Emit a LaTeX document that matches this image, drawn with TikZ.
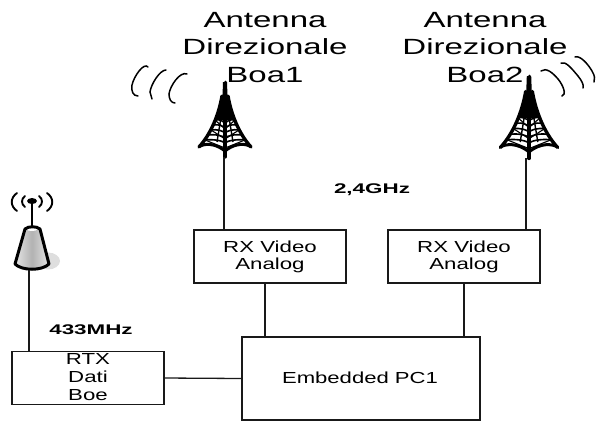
\documentclass[tikz,border=0pt]{standalone}
\usepackage{fontspec}
\setmainfont{Liberation Sans}
\newcommand{\stretchtxt}[3]{\fontsize{#2}{#2}\selectfont\scalebox{#1}[1]{#3}}
\tikzset{
  x=1pt,y=-1pt,
  boxnode/.style={draw=black!90,line width=1.3pt,inner sep=0,fill=white},
  wire/.style={draw=black!90,line width=1.3pt},
  wavearc/.style={draw=black,line width=1.5pt,line cap=round},
  lbl/.style={inner sep=0,align=center,text=black},
  towerpic/.pic={
    \fill[black] (-2,0) -- (2,0) -- (2.5,14) .. controls (4,24) and (6,30) .. (10,38) -- (-10,38) .. controls (-6,30) and (-4,24) .. (-2.5,14) -- cycle;
    \draw[black,line width=3pt,line cap=round] (0,0) -- (0,4);
    \draw[black,line width=3.4pt,line cap=round] (-3,14) .. controls (-6,32) and (-14,52) .. (-26,65);
    \draw[black,line width=3.4pt,line cap=round] (3,14) .. controls (6,32) and (14,52) .. (26,65);
    \draw[black,line width=3pt] (-25,64) .. controls (-16,60) and (-6,64) .. (0,69) .. controls (6,64) and (16,60) .. (25,64);
    \draw[black,line width=3.2pt,line cap=round] (0,30) -- (0,75);
    \foreach \yy/\hw in {38/10,43/12,48/14.5,53/17,58/20}{
      \draw[black,line width=1.6pt] (-\hw,\yy) .. controls (-\hw/2,\yy-1) and (-2,\yy+1) .. (0,\yy+3) .. controls (2,\yy+1) and (\hw/2,\yy-1) .. (\hw,\yy);
    }
    \draw[black,line width=1.1pt] (-10,38)--(0,47) (10,38)--(0,47) (-14,48)--(0,57) (14,48)--(0,57) (-20,58)--(0,66) (20,58)--(0,66);
    \draw[black,line width=1.4pt] (-1.5,20)--(-8,60) (1.5,20)--(8,60);
  }
}
\begin{document}
\begin{tikzpicture}
\useasboundingbox (0,0) rectangle (596,421);
% shadow
\fill[black!13] (48,261) ellipse (12 and 8.5);
% towers
\pic at (225,82) {towerpic};
\pic[scale=1.1] at (529,76) {towerpic};
\coordinate (t1) at (224,157);
\coordinate (t2) at (526,158);
% small antenna
\coordinate (a0) at (29,270);
\shade[left color=white!90!black,right color=white!90!black,middle color=black!30] (25,229) -- (40,229) -- (49,264) .. controls (40,270) and (24,270) .. (15,264) -- cycle;
\fill[white] (32,229.5) ellipse (5 and 1.5);
\draw[black,line width=3pt,line join=round] (25,229) .. controls (28,226) and (37,226) .. (40,229) -- (49,264) .. controls (42,271) and (22,271) .. (15,264) -- cycle;
\draw[black,line width=2.4pt] (32,203) -- (32,227);
\fill[black] (32,201) ellipse (5 and 3);
\draw[wavearc,line width=1.9pt] (25,196) .. controls (21,199) and (21,204) .. (25,207);
\draw[wavearc,line width=1.9pt] (17,193) .. controls (10,198) and (10,206) .. (17,211);
\draw[wavearc,line width=1.9pt] (39,196) .. controls (43,199) and (43,204) .. (39,207);
\draw[wavearc,line width=1.9pt] (47,193) .. controls (54,198) and (54,206) .. (47,211);
% left waves
\draw[wavearc] (148,67) .. controls (144,62) and (134,76) .. (132,85) .. controls (131,91) and (133,96) .. (138,96);
\draw[wavearc] (166,70) .. controls (160,70) and (151,84) .. (150,92) -- (152,99);
\draw[wavearc] (187,74) .. controls (180,71) and (170,86) .. (169,94) .. controls (169,99) and (171,103) .. (175,103);
% right waves
\draw[wavearc] (541,71) .. controls (546,67) and (553,73) .. (558,79) .. controls (563,85) and (567,95) .. (562,96);
\draw[wavearc] (561,63) .. controls (566,61) and (572,69) .. (578,76) .. controls (582,81) and (584,85) .. (583,88);
\draw[wavearc] (575,57) .. controls (580,55) and (588,64) .. (592,71) .. controls (595,76) and (595,79) .. (594,82);
% text
\node[lbl] at (265,20) {\stretchtxt{1.5}{22}{Antenna}};
\node[lbl] at (265,47) {\stretchtxt{1.5}{22}{Direzionale}};
\node[lbl] at (265,75) {\stretchtxt{1.5}{22}{Boa1}};
\node[lbl] at (485,20) {\stretchtxt{1.5}{22}{Antenna}};
\node[lbl] at (485,47) {\stretchtxt{1.5}{22}{Direzionale}};
\node[lbl] at (485,75) {\stretchtxt{1.5}{22}{Boa2}};
\node[lbl] at (372,190) {\stretchtxt{1.6}{14}{\bfseries 2,4GHz}};
\node[lbl] at (91,330) {\stretchtxt{1.6}{14}{\bfseries 433MHz}};
% boxes
\node[boxnode,minimum width=152pt,minimum height=53pt] (rx1) at (270,256.5) {};
\node[boxnode,minimum width=152pt,minimum height=53pt] (rx2) at (464,256.5) {};
\node[boxnode,minimum width=152pt,minimum height=53pt] (rtx) at (88,378) {};
\node[boxnode,minimum width=238pt,minimum height=83pt] (pc) at (361,378.5) {};
\node[lbl] at (270,247) {\stretchtxt{1.39}{16}{RX Video}};
\node[lbl] at (270,265) {\stretchtxt{1.39}{16}{Analog}};
\node[lbl] at (464,247) {\stretchtxt{1.39}{16}{RX Video}};
\node[lbl] at (464,265) {\stretchtxt{1.39}{16}{Analog}};
\node[lbl] at (88,359) {\stretchtxt{1.39}{16}{RTX}};
\node[lbl] at (88,377) {\stretchtxt{1.39}{16}{Dati}};
\node[lbl] at (88,395) {\stretchtxt{1.39}{16}{Boe}};
\node[lbl] at (360,378) {\stretchtxt{1.38}{16}{Embedded PC1}};
% connectors
\draw[wire] (t1) -- (t1 |- rx1.north);
\draw[wire] (t2) -- (t2 |- rx2.north);
\draw[wire] (a0) -- (a0 |- rtx.north);
\coordinate (c1) at (265,283);
\coordinate (c2) at (464,283);
\draw[wire] (c1 |- rx1.south) -- (c1 |- pc.north);
\draw[wire] (c2 |- rx2.south) -- (c2 |- pc.north);
\draw[wire] (rtx.east) -- (pc.west);
\end{tikzpicture}
\end{document}
